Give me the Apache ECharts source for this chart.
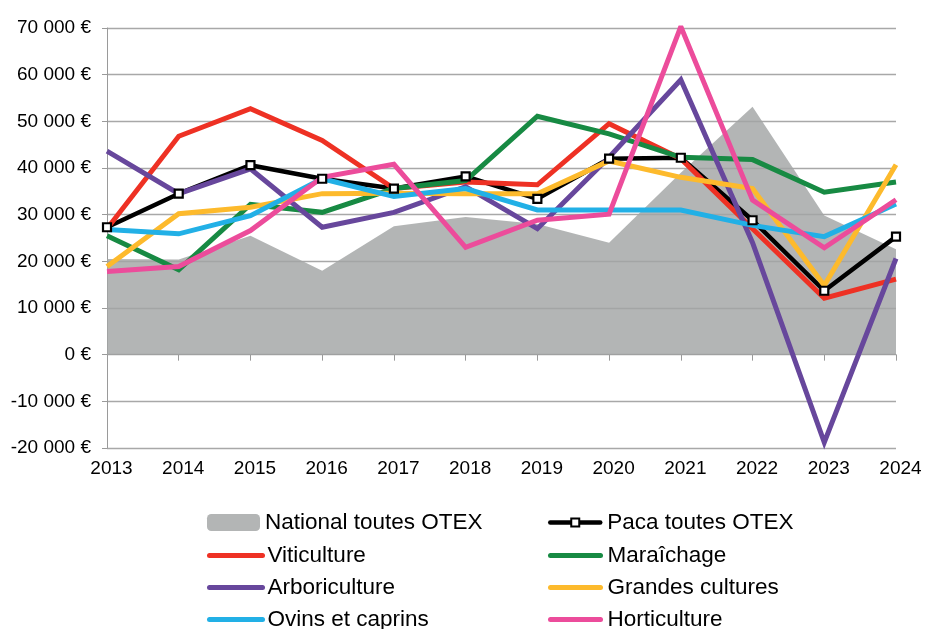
<!DOCTYPE html>
<html>
<head>
<meta charset="utf-8">
<script src="https://cdn.jsdelivr.net/npm/echarts@6/dist/echarts.min.js"></script>
<style>
  html, body { margin: 0; padding: 0; background: #fff; }
  #chart { width: 938px; height: 629px; }
</style>
</head>
<body>
<div id="chart"></div>
<script>
// Years on the horizontal axis
const years = ['2013', '2014', '2015', '2016', '2017', '2018', '2019', '2020', '2021', '2022', '2023', '2024'];

// Results per farm type (€)
const nationalToutesOtex = [20500, 20400, 25500, 18000, 27500, 29500, 28000, 24000, 39000, 53100, 29800, 22600];
const pacaToutesOtex     = [27300, 34500, 40600, 37700, 35600, 38200, 33400, 42000, 42200, 28800, 13700, 25300];
const viticulture        = [27000, 46800, 52700, 45900, 35600, 37000, 36400, 49500, 42000, 27000, 12100, 16200];
const maraichage         = [25500, 18200, 32200, 30500, 35600, 37300, 51100, 47300, 42300, 41800, 34800, 37000];
const arboriculture      = [43600, 34500, 39800, 27300, 30500, 36000, 27000, 42300, 58900, 24000, -18800, 20600];
const grandesCultures    = [18900, 30200, 31600, 34500, 34600, 34500, 34500, 41500, 38000, 35600, 14800, 40700];
const ovinsCaprins       = [26800, 25900, 29800, 37700, 33900, 35600, 31000, 31000, 31000, 27700, 25300, 32300];
const horticulture       = [17800, 18900, 26600, 38000, 40800, 23000, 28800, 30100, 70300, 33100, 22900, 33200];

// Y axis range
const yMin = -20000, yMax = 70000, yStep = 10000;

const FONT = '"Liberation Sans", Arial, sans-serif';

function euro(v) {
  const s = Math.abs(v).toString().replace(/\B(?=(\d{3})+(?!\d))/g, ' ');
  return (v < 0 ? '-' : '') + s + ' €';
}

function lineSeries(name, data, color) {
  return {
    name, type: 'line', data,
    symbol: 'none',
    lineStyle: { color, width: 5, join: 'miter' },
    itemStyle: { color },
    emphasis: { disabled: true }
  };
}

// one legend block; a tiny itemHeight keeps the line-icon marker hidden under the stroke
function legendBlock(left, top, names, itemWidth, itemHeight, textGap, lineWidth) {
  return {
    orient: 'vertical', left, top, height: 160,
    padding: 0,
    itemWidth, itemHeight, itemGap: 9,
    selectedMode: false,
    lineStyle: { width: lineWidth, cap: 'round' },
    textStyle: { fontSize: 22.5, fontFamily: FONT, color: '#000', padding: [0, 0, 0, textGap] },
    data: names
  };
}

const chart = echarts.init(document.getElementById('chart'), null, { renderer: 'canvas' });

chart.setOption({
  animation: false,
  backgroundColor: '#ffffff',
  grid: { left: 107, right: 42, top: 28, bottom: 181, containLabel: false },
  xAxis: {
    type: 'category',
    data: years,
    boundaryGap: false,
    axisLine: { onZero: true, lineStyle: { color: '#9a9a9a', width: 1 } },
    axisTick: { show: true, length: 6, alignWithLabel: true, lineStyle: { color: '#9a9a9a' } },
    axisLabel: { margin: 11, fontSize: 19, fontFamily: FONT, color: '#000', padding: [0, 0, 0, 9] },
    splitLine: { show: false }
  },
  yAxis: {
    type: 'value',
    min: yMin, max: yMax, interval: yStep,
    axisLine: { show: true, lineStyle: { color: '#9a9a9a', width: 1 } },
    axisTick: { show: true, length: 5, lineStyle: { color: '#9a9a9a' } },
    axisLabel: { margin: 16, fontSize: 19, fontFamily: FONT, color: '#000', formatter: euro },
    splitLine: { show: true, lineStyle: { color: '#a8a8a8', width: 1.3 } }
  },
  legend: [
    legendBlock(207, 511, [{ name: 'National toutes OTEX', icon: 'roundRect' }], 53, 17, 0, 5),
    legendBlock(207, 544, ['Viticulture', 'Arboriculture', 'Ovins et caprins'], 53, 1, 0, 5),
    legendBlock(548, 511, ['Paca toutes OTEX'], 50, 10, 2, 4.5),
    legendBlock(548, 544, ['Maraîchage', 'Grandes cultures', 'Horticulture'], 50, 1, 2, 5)
  ],
  series: [
    {
      name: 'National toutes OTEX', type: 'line', data: nationalToutesOtex,
      symbol: 'none',
      lineStyle: { width: 0, color: 'rgba(0,0,0,0)' },
      areaStyle: { color: 'rgba(162,165,165,0.82)', opacity: 1 },
      itemStyle: { color: '#b3b5b5' },
      emphasis: { disabled: true },
      z: 1
    },
    {
      name: 'Paca toutes OTEX', type: 'line', data: pacaToutesOtex,
      symbol: 'rect', symbolSize: 8, showSymbol: true,
      lineStyle: { color: '#000', width: 4.5 },
      itemStyle: { color: '#fff', borderColor: '#000', borderWidth: 2.2 },
      emphasis: { disabled: true }
    },
    lineSeries('Viticulture', viticulture, '#ee3124'),
    lineSeries('Maraîchage', maraichage, '#178a43'),
    lineSeries('Arboriculture', arboriculture, '#67479c'),
    lineSeries('Grandes cultures', grandesCultures, '#fdba2c'),
    lineSeries('Ovins et caprins', ovinsCaprins, '#22b0e6'),
    lineSeries('Horticulture', horticulture, '#ec4c9b')
  ]
});
</script>
</body>
</html>
